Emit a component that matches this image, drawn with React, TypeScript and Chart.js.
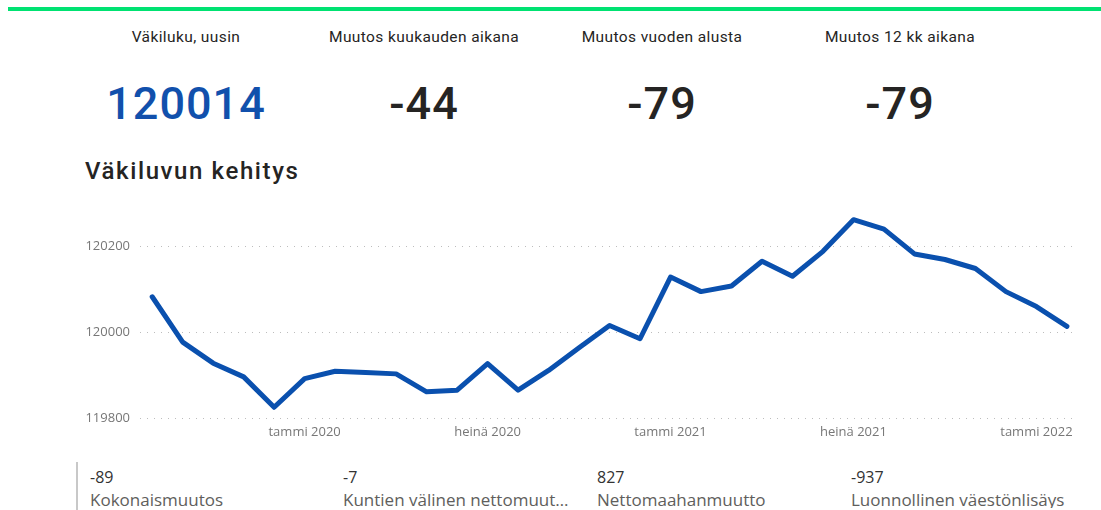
import React, { useEffect, useRef } from "react";
import { Chart, registerables } from "chart.js";

Chart.register(...registerables);

const months: string[] = [
  "elo 2019", "syys 2019", "loka 2019", "marras 2019", "joulu 2019",
  "tammi 2020", "helmi 2020", "maalis 2020", "huhti 2020", "touko 2020", "kesä 2020",
  "heinä 2020", "elo 2020", "syys 2020", "loka 2020", "marras 2020", "joulu 2020",
  "tammi 2021", "helmi 2021", "maalis 2021", "huhti 2021", "touko 2021", "kesä 2021",
  "heinä 2021", "elo 2021", "syys 2021", "loka 2021", "marras 2021", "joulu 2021",
  "tammi 2022", "helmi 2022",
];

const population: number[] = [
  120083, 119977, 119928, 119896, 119825,
  119892, 119909, 119906, 119903, 119861, 119865,
  119927, 119865, 119911, 119964, 120016, 119985,
  120129, 120095, 120108, 120166, 120131, 120189,
  120263, 120241, 120183, 120170, 120149, 120095,
  120060, 120014,
];

const yTicks: number[] = [119800, 120000, 120200];
const xTickMonths: string[] = ["tammi", "heinä"];

const kpiTitles: string[] = ["Väkiluku, uusin", "Muutos kuukauden aikana", "Muutos vuoden alusta", "Muutos 12 kk aikana"];
const kpiValues: string[] = ["120014", "-44", "-79", "-79"];

const bottomValues: string[] = ["-89", "-7", "827", "-937"];
const bottomLabels: string[] = ["Kokonaismuutos", "Kuntien välinen nettomuutto", "Nettomaahanmuutto", "Luonnollinen väestönlisäys"];

const DIN = "Roboto, 'DejaVu Sans', sans-serif";
const SEGOE = "'Open Sans', 'Noto Sans', sans-serif";

function LineChart() {
  const ref = useRef<HTMLCanvasElement | null>(null);
  useEffect(() => {
    if (!ref.current) return;
    const xTickIdx = months
      .map((m, i) => (xTickMonths.some((p) => m.startsWith(p)) ? i : -1))
      .filter((i) => i >= 0);
    const chart = new Chart(ref.current, {
      type: "line",
      data: {
        datasets: [
          {
            data: population.map((v, i) => ({ x: i, y: v })),
            borderColor: "#0A50AE",
            borderWidth: 5,
            pointRadius: 0,
            tension: 0,
            borderJoinStyle: "round",
            borderCapStyle: "round",
            fill: false,
          },
        ],
      },
      options: {
        animation: false,
        responsive: false,
        maintainAspectRatio: false,
        layout: { padding: { top: 7.5, right: 7, left: 0, bottom: 0 } },
        plugins: { legend: { display: false }, tooltip: { enabled: false } },
        scales: {
          x: {
            type: "linear",
            min: -0.4,
            max: 30.2,
            afterBuildTicks: (axis: any) => {
              axis.ticks = xTickIdx.map((v) => ({ value: v }));
            },
            afterFit: (axis: any) => {
              axis.height = 30;
            },
            grid: { display: false, drawTicks: false },
            border: { display: false },
            ticks: {
              autoSkip: false,
              maxRotation: 0,
              padding: 6,
              color: "#777777",
              font: { family: SEGOE, size: 13 },
              callback: (v: any) => months[Math.round(Number(v))] ?? "",
            },
          },
          y: {
            min: 119800,
            max: 120300,
            afterBuildTicks: (axis: any) => {
              axis.ticks = yTicks.map((v) => ({ value: v }));
            },
            afterFit: (axis: any) => {
              axis.width = 70;
            },
            grid: { color: "#bdbdbd", lineWidth: 1, drawTicks: false },
            border: { display: false, dash: [1, 6] },
            ticks: {
              padding: 10,
              color: "#777777",
              font: { family: SEGOE, size: 13 },
              callback: (v: any) => String(v),
            },
          },
        },
      },
    });
    return () => chart.destroy();
  }, []);
  return (
    <canvas
      ref={ref}
      width={1010}
      height={262}
      style={{ position: "absolute", left: 70, top: 186, width: 1010, height: 262 }}
    />
  );
}

export default function App() {
  const centers = [186, 424, 662, 900];
  const cols = [90, 343, 597, 851];
  return (
    <div
      style={{
        position: "absolute",
        left: 0,
        top: 0,
        width: 1101,
        height: 510,
        overflow: "hidden",
        background: "#ffffff",
      }}
    >
      <div style={{ position: "absolute", left: 8, top: 7, width: 1093, height: 4, background: "#00E272" }} />
      {kpiTitles.map((t, i) => (
        <div
          key={"t" + i}
          style={{
            position: "absolute",
            left: centers[i] - 120,
            width: 240,
            top: 29.5,
            textAlign: "center",
            fontFamily: DIN,
            fontSize: 15.5,
            fontWeight: 400,
            letterSpacing: "0.4px",
            lineHeight: "15px",
            color: "#252423",
            whiteSpace: "nowrap",
          }}
        >
          {t}
        </div>
      ))}
      {kpiValues.map((v, i) => (
        <div
          key={"v" + i}
          style={{
            position: "absolute",
            left: centers[i] - 120,
            width: 240,
            top: 81,
            textAlign: "center",
            fontFamily: DIN,
            fontSize: 45,
            fontWeight: 500,
            letterSpacing: "1px",
            lineHeight: "45px",
            color: i === 0 ? "#1150AC" : "#252423",
            whiteSpace: "nowrap",
          }}
        >
          {v}
        </div>
      ))}
      <div
        style={{
          position: "absolute",
          left: 85,
          top: 159,
          fontFamily: DIN,
          fontSize: 24,
          fontWeight: 500,
          letterSpacing: "1.6px",
          lineHeight: "24px",
          color: "#252423",
          whiteSpace: "nowrap",
        }}
      >
        Väkiluvun kehitys
      </div>
      <LineChart />
      <div style={{ position: "absolute", left: 76, top: 462, width: 2, height: 48, background: "#c8c8c8" }} />
      {bottomValues.map((v, i) => (
        <div
          key={"bv" + i}
          style={{
            position: "absolute",
            left: cols[i],
            top: 468.5,
            fontFamily: SEGOE,
            fontSize: 16,
            lineHeight: "16px",
            color: "#333333",
            whiteSpace: "nowrap",
          }}
        >
          {v}
        </div>
      ))}
      {bottomLabels.map((l, i) => (
        <div
          key={"bl" + i}
          style={{
            position: "absolute",
            left: cols[i],
            top: 491,
            width: 228,
            fontFamily: SEGOE,
            fontSize: 17,
            lineHeight: "17px",
            color: "#605E5C",
            whiteSpace: "nowrap",
            overflow: "hidden",
            textOverflow: "ellipsis",
          }}
        >
          {l}
        </div>
      ))}
    </div>
  );
}
